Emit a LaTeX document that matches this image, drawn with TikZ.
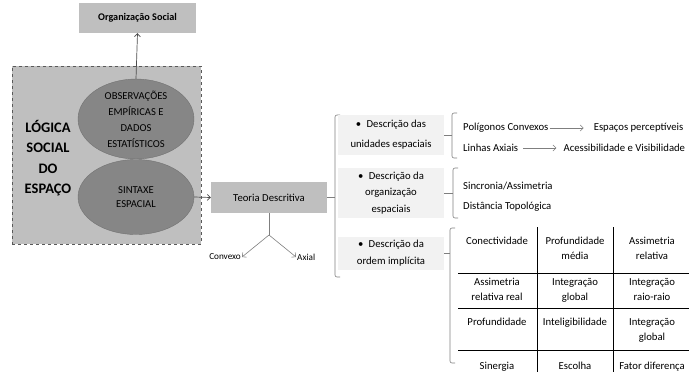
\documentclass[tikz,border=0pt]{standalone}
\usepackage{fontspec}
\setmainfont{Carlito}
\usetikzlibrary{shapes.geometric,positioning,arrows.meta}
\definecolor{boxgray}{HTML}{BFBFBF}
\definecolor{ellgray}{HTML}{868686}
\definecolor{linegray}{HTML}{7F7F7F}
\definecolor{descgray}{HTML}{F2F2F2}
\newcommand{\lsize}[2]{\fontsize{#1}{#2}\selectfont}

\begin{document}
\begin{tikzpicture}[x=1pt, y=-1pt, font=\lsize{10.7}{15},
  greybox/.style={fill=boxgray, inner sep=0pt, minimum height=30pt},
  blob/.style={ellipse, fill=ellgray, draw=ellgray!85!black, minimum width=116pt,
    minimum height=75pt, align=center, inner sep=0pt},
  descbox/.style={fill=descgray, minimum width=106pt, align=center, inner sep=0pt},
  brace/.style={draw=linegray, line width=0.6pt, rounded corners=2pt},
  darrow/.style={draw=black!70, line width=0.7pt, -{Straight Barb[length=3pt,width=6pt]}},
  garrow/.style={draw=linegray, line width=0.6pt, -{Straight Barb[length=3pt,width=6pt]}},
  txt/.style={anchor=west, inner sep=1pt},
  cell/.style={anchor=north, align=center, inner sep=0pt}]
  \useasboundingbox (0,0) rectangle (689,372);

  \node [greybox, minimum width=117pt, font=\lsize{10.2}{12}\bfseries] (orgsoc) at (137.5,18) {Organização Social};
  \node [draw=black!65, dashed, line width=0.9pt, fill=boxgray, minimum width=189pt,
    minimum height=178pt, inner sep=0pt] (frame) at (106.5,155) {};
  \node [font=\lsize{14.5}{20.5}\bfseries, align=center] (logica) at (48,158) {LÓGICA\\SOCIAL\\DO\\ESPAÇO};
  \node [blob, font=\lsize{10.6}{16}] (obs) at (136,119) {OBSERVAÇÕES\\EMPÍRICAS E\\DADOS\\ESTATÍSTICOS};
  \node [blob, font=\lsize{10.6}{14}] (sint) at (136,197) {SINTAXE\\ESPACIAL};
  \node [greybox, minimum width=116pt, minimum height=31pt] (teoria) at (269,197.5) {Teoria Descritiva};

  \draw [darrow] (obs.north) -- (orgsoc.south);
  \draw [darrow] (sint.east) -- (teoria.west);

  \coordinate (fork) at (269,235);
  \node [font=\lsize{9.2}{10}, anchor=east, inner sep=1pt] (convexo) at (242,257) {Convexo};
  \node [font=\lsize{9.2}{10}, anchor=west, inner sep=1pt] (axial) at (296,257) {Axial};
  \draw [linegray, line width=0.6pt] (teoria.south) -- (fork);
  \draw [garrow] (fork) -- (convexo.east);
  \draw [garrow] (fork) -- (axial.west);

  \coordinate (bigtick) at (335,197.5);
  \draw [brace] (340,115) -- (335,115) -- (335,277) -- (340,277);
  \draw [linegray, line width=0.6pt] (teoria.east) -- (bigtick);

  \node [descbox, minimum height=40pt, font=\lsize{10.7}{20}] (unid) at (391,135) {\textbullet\enspace Descrição das\\unidades espaciais};
  \node [descbox, minimum height=50pt, font=\lsize{10.7}{16.5}] (orgesp) at (391,193) {\textbullet\enspace Descrição da\\organização\\espaciais};
  \node [descbox, minimum height=33pt, font=\lsize{10.7}{17}] (ordem) at (391,253.5) {\textbullet\enspace Descrição da\\ordem implícita};

  \coordinate (ticka) at (452,135);
  \coordinate (tickb) at (453,193);
  \coordinate (tickc) at (450,253.5);
  \draw [brace] (457,113) -- (452,113) -- (452,158) -- (457,158);
  \draw [brace] (458,168) -- (453,168) -- (453,218) -- (458,218);
  \draw [brace] (455,228) -- (450,228) -- (450,363) -- (455,363);
  \draw [linegray, line width=0.6pt] (unid.east) -- (ticka);
  \draw [linegray, line width=0.6pt] (orgesp.east) -- (tickb);
  \draw [linegray, line width=0.6pt] (ordem.east) -- (tickc);

  \node [txt] (poly) at (462,128) {Polígonos Convexos};
  \node [txt, right=43pt of poly] (percep) {Espaços perceptíveis};
  \node [txt] (axlines) at (462,148) {Linhas Axiais};
  \node [txt, right=43pt of axlines] (acess) {Acessibilidade e Visibilidade};
  \draw [garrow, shorten >=9pt] (poly.east) -- (percep.west);
  \draw [garrow, shorten <=4pt, shorten >=6pt] (axlines.east) -- (acess.west);
  \node [txt] (sinc) at (462,186) {Sincronia/Assimetria};
  \node [txt] (dist) at (462,207) {Distância Topológica};

  \foreach \x in {537,613}
    \draw [line width=0.8pt] (\x,227) -- (\x,372);
  \foreach \y in {273,308,350}
    \draw [line width=0.8pt] (458,\y) -- (689,\y);
  \foreach \cx/\cy/\ctext [count=\i] in {497/237/Conectividade, 575/237/{Profundidade\\média},
      652/237/{Assimetria\\relativa}, 497/278/{Assimetria\\relativa real},
      575/278/{Integração\\global}, 652/278/{Integração\\raio-raio},
      497/318/Profundidade, 575/318/Inteligibilidade, 652/318/{Integração\\global},
      497/362/Sinergia, 575/362/Escolha, 652/362/{Fator diferença}}
    \node [cell] (cell\i) at (\cx,\cy) {\ctext};
\end{tikzpicture}
\end{document}
